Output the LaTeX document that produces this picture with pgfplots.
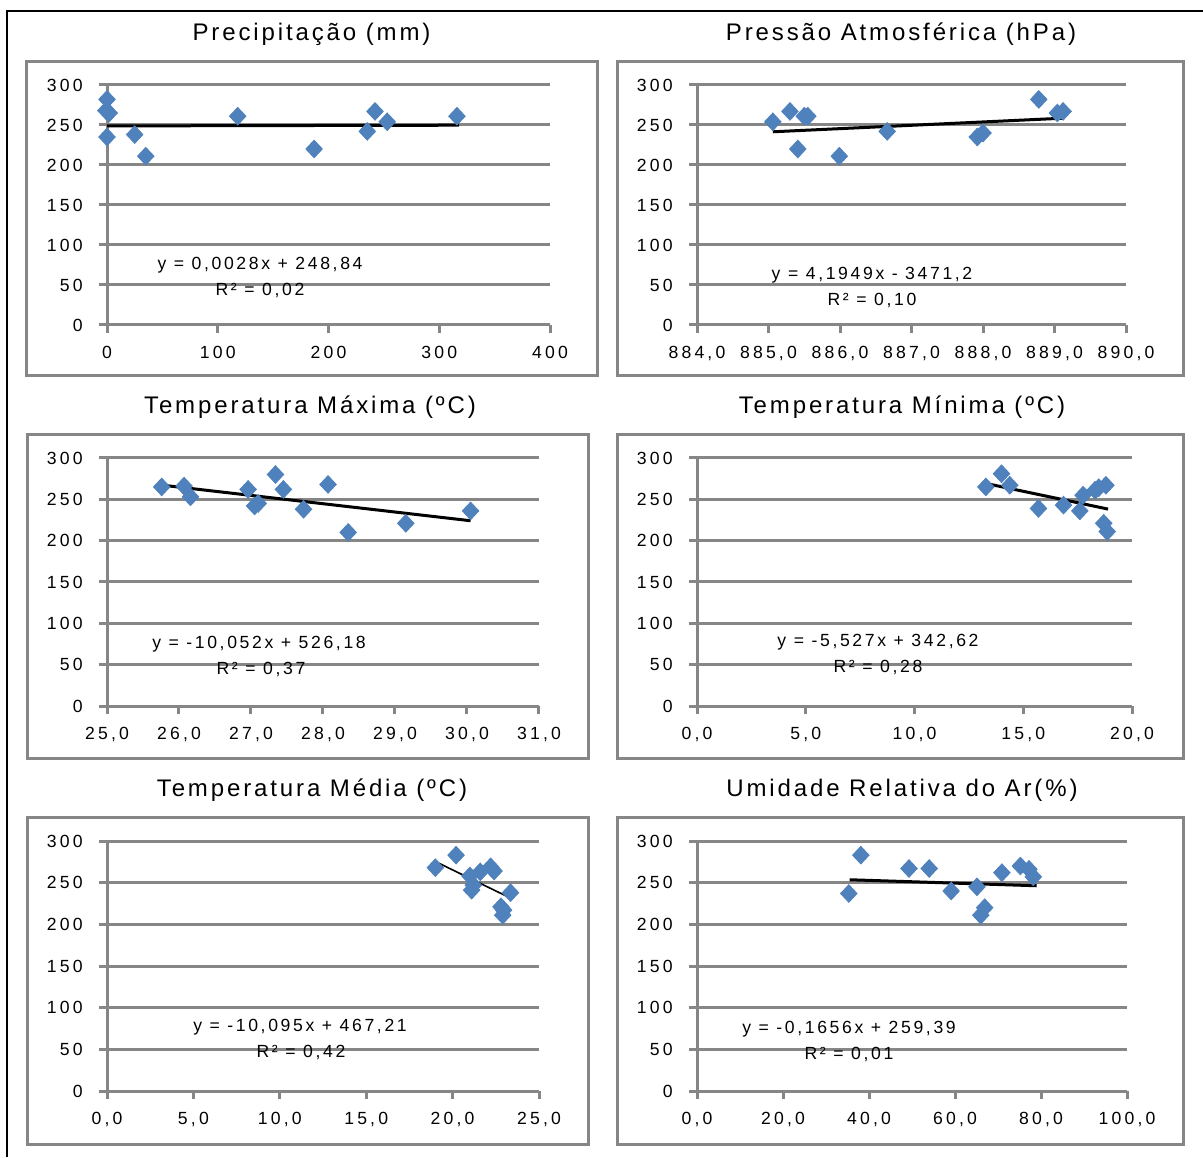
\documentclass[border=0pt]{standalone}
\usepackage{fontspec}
\setmainfont{Liberation Sans}
\newfontfamily\titlefont[LetterSpace=12]{Liberation Sans}
\newfontfamily\tickfont[LetterSpace=18]{Liberation Sans}
\newfontfamily\eqfont[LetterSpace=15]{Liberation Sans}
\usepackage{pgfplots}
\pgfplotsset{compat=1.18}
\definecolor{gridgray}{HTML}{868686}
\definecolor{mblue}{HTML}{4F81BD}
\pgfplotsset{
  panel/.style={
    scale only axis, anchor=south west,
    axis lines*=left,
    axis line style={gridgray, line width=1.5pt},
    ymin=0, ymax=300, ytick={0,50,100,150,200,250,300},
    yticklabels={0,50,100,150,200,250,300},
    ymajorgrids, major grid style={gridgray, line width=1.5pt},
    major tick style={gridgray, line width=1.5pt},
    tick align=outside, major tick length=4pt,
    tick label style={font=\tickfont\fontsize{8.8}{10}\selectfont, text=black},
    yticklabel style={inner sep=0pt, xshift=-8pt},
    xticklabel style={inner sep=0pt, yshift=-6.5pt},
    clip=false,
  },
  pts/.style={only marks, mark=diamond*, mark size=4.4pt,
    mark options={fill=mblue, draw=mblue, xscale=1.25}},
  trend/.style={black, line width=1.5pt},
}
\begin{document}
\begin{tikzpicture}[x=0.5pt,y=0.5pt]
\path[use as bounding box] (0,0) rectangle (1203,1157);
\fill[white] (0,0) rectangle (1203,1157);
\draw[black, line width=0.75pt] (7,0) -- (7,1146) -- (1203,1146);
% panel boxes
\draw[gridgray, line width=1.5pt] (26,1095) rectangle (597,781);
\draw[gridgray, line width=1.5pt] (617,1095) rectangle (1183,781);
\draw[gridgray, line width=1.5pt] (27,722) rectangle (588,399);
\draw[gridgray, line width=1.5pt] (617,722) rectangle (1183,399);
\draw[gridgray, line width=1.5pt] (27,340) rectangle (588,13);
\draw[gridgray, line width=1.5pt] (617,340) rectangle (1183,13);
% titles
\begin{scope}[every node/.style={font=\titlefont\fontsize{12}{14}\selectfont, text=black}]
\node at (311.5,1123) {Precipitação (mm)};
\node at (901,1123) {Pressão Atmosférica (hPa)};
\node at (310,750) {Temperatura Máxima (ºC)};
\node at (902,750) {Temperatura Mínima (ºC)};
\node at (312,367) {Temperatura Média (ºC)};
\node at (902,367) {Umidade Relativa do Ar(\%)};
\end{scope}

% Panel 1
\begin{axis}[panel, at={(53.5pt,416pt)}, width=221.5pt, height=120pt,
  xmin=0, xmax=400, xtick={0,100,200,300,400}, xticklabels={0,100,200,300,400}]
\addplot[pts] coordinates {(0,282) (-1,268) (2,265) (0,235) (25,238) (35,211)
  (118,261) (187,220) (235,242) (242,267) (253,254) (316,261)};
\addplot[trend] coordinates {(0,248.84) (318,249.73)};
\end{axis}

% Panel 2
\begin{axis}[panel, at={(348.5pt,416pt)}, width=214.5pt, height=120pt,
  xmin=884, xmax=890, xtick={884,885,886,887,888,889,890},
  xticklabels={{884,0},{885,0},{886,0},{887,0},{888,0},{889,0},{890,0}}]
\addplot[pts] coordinates {(885.06,254) (885.30,267) (885.41,220) (885.50,261)
  (885.55,261) (885.99,211) (886.66,242) (887.92,235) (888.00,240) (888.78,282)
  (889.04,265) (889.12,267)};
\addplot[trend] coordinates {(885.06,241.5) (889.12,258.5)};
\end{axis}

% Panel 3
\begin{axis}[panel, at={(53.5pt,225.5pt)}, width=216pt, height=124pt,
  xmin=25, xmax=31, xtick={25,26,27,28,29,30,31},
  xticklabels={{25,0},{26,0},{27,0},{28,0},{29,0},{30,0},{31,0}}]
\addplot[pts] coordinates {(25.76,265) (26.07,266) (26.16,253) (26.96,262)
  (27.05,242) (27.10,245) (27.34,280) (27.45,262) (27.73,238) (28.07,268)
  (28.35,210) (29.15,221) (30.05,236)};
\addplot[trend] coordinates {(25.76,267.2) (30.05,224.1)};
\end{axis}

% Panel 4
\begin{axis}[panel, at={(348.5pt,225.5pt)}, width=217.5pt, height=124pt,
  xmin=0, xmax=20, xtick={0,5,10,15,20},
  xticklabels={{0,0},{5,0},{10,0},{15,0},{20,0}}]
\addplot[pts] coordinates {(13.28,265) (14.0,281) (14.38,267) (15.7,239)
  (16.85,243) (17.6,236) (17.75,255) (18.3,261) (18.47,264) (18.8,267)
  (18.7,221) (18.86,211)};
\addplot[trend] coordinates {(13.3,269.1) (18.9,238.2)};
\end{axis}

% Panel 5
\begin{axis}[panel, at={(53.5pt,33pt)}, width=216pt, height=125pt,
  xmin=0, xmax=25, xtick={0,5,10,15,20,25},
  xticklabels={{0,0},{5,0},{10,0},{15,0},{20,0},{25,0}}]
\addplot[pts] coordinates {(19.0,268) (20.2,283) (21.0,258) (21.1,241) (21.2,247)
  (21.6,263) (22.2,269) (22.4,264) (22.8,221) (22.9,211) (22.95,217) (23.35,238)};
\addplot[black, line width=0.8pt] coordinates {(19.2,273.4) (23.4,231.0)};
\end{axis}

% Panel 6
\begin{axis}[panel, at={(348.5pt,33pt)}, width=215pt, height=125pt,
  xmin=0, xmax=100, xtick={0,20,40,60,80,100},
  xticklabels={{0,0},{20,0},{40,0},{60,0},{80,0},{100,0}}]
\addplot[pts] coordinates {(35.3,237) (38.1,283) (49.3,267) (54.0,267) (59.1,240)
  (65.1,245) (66.0,211) (66.9,220) (70.9,262) (75.2,270) (77.2,266) (78.2,257)};
\addplot[trend] coordinates {(35.5,253.5) (79,246.3)};
\end{axis}

% equations
\begin{scope}[every node/.style={font=\eqfont\fontsize{8.8}{10}\selectfont, text=black}]
\node at (260,892) {y = 0,0028x + 248,84};
\node at (260,867) {R² = 0,02};
\node at (872,882) {y = 4,1949x - 3471,2};
\node at (872,857) {R² = 0,10};
\node at (259,513) {y = -10,052x + 526,18};
\node at (261,488) {R² = 0,37};
\node at (878,515) {y = -5,527x + 342,62};
\node at (878,490) {R² = 0,28};
\node at (300,130) {y = -10,095x + 467,21};
\node at (301,105) {R² = 0,42};
\node at (849,128) {y = -0,1656x + 259,39};
\node at (849,103) {R² = 0,01};
\end{scope}
\end{tikzpicture}
\end{document}
